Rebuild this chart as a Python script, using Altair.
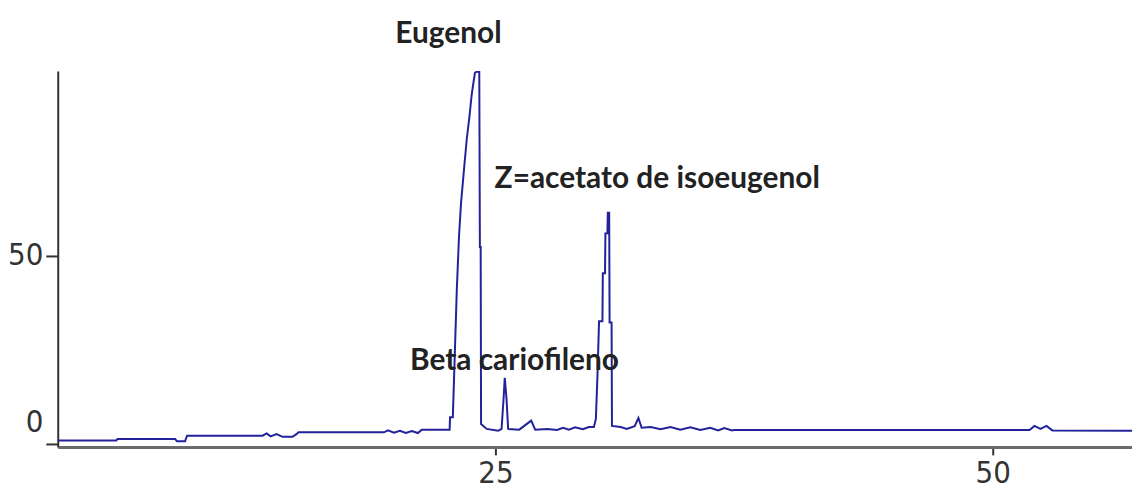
import altair as alt
import pandas as pd

# retention time (min) and relative abundance (%)
rt = [3.0, 5.95, 6.0, 8.9, 9.0, 9.4, 9.5, 13.3, 13.5, 13.7, 14.0, 14.3, 14.8, 15.0,
      15.1, 19.4, 19.6, 19.9, 20.2, 20.5, 20.8, 21.1, 21.3, 22.7, 22.72, 22.86,
      23.06, 23.17, 23.27, 23.44, 23.56, 23.69, 23.81, 23.97, 24.06, 24.19, 24.22,
      24.26, 24.28, 24.56, 25.14, 25.31, 25.42, 25.47, 25.56, 25.64, 26.2, 26.8,
      27.0, 27.6, 28.1, 28.4, 28.7, 29.0, 29.4, 29.7, 29.95, 30.05, 30.13, 30.21,
      30.38, 30.40, 30.51, 30.53, 30.63, 30.65, 30.72, 30.74, 30.84, 30.86, 31.3,
      31.6, 32.0, 32.19, 32.35, 32.8, 33.3, 33.8, 34.3, 34.8, 35.3, 35.8, 36.2,
      36.5, 36.9, 37.0, 51.85, 52.1, 52.4, 52.7, 53.0, 57.0]
abund = [0.9, 0.9, 1.3, 1.3, 0.7, 0.7, 2.2, 2.2, 2.8, 2.0, 2.6, 1.9, 1.9, 2.6,
         3.1, 3.1, 3.6, 3.0, 3.5, 2.9, 3.4, 2.9, 3.8, 3.8, 7.1, 7.1,
         41.0, 55.1, 63.9, 74.1, 81.1, 86.8, 93.0, 98.7, 99.0, 99.0, 52.4,
         52.4, 5.3, 4.0, 3.5, 4.0, 12.8, 17.6, 11.9, 4.0, 3.8, 6.2,
         3.8, 4.0, 3.7, 4.3, 3.8, 4.4, 3.9, 4.5, 4.5, 6.6, 18.1, 32.6,
         32.6, 45.4, 45.4, 56.0, 56.0, 61.5, 61.5, 32.3, 32.3, 4.8, 4.5,
         4.0, 4.7, 6.9, 4.3, 4.5, 3.9, 4.5, 3.8, 4.4, 3.7, 4.3, 3.6,
         4.2, 3.6, 3.7, 3.7, 4.8, 4.0, 4.8, 3.6, 3.5]

labels = ["Eugenol", "Z=acetato de isoeugenol", "Beta cariofileno"]
label_rt = [19.97, 24.96, 20.71]
label_ab = [106.6, 68.0, 19.6]

df = pd.DataFrame({"rt": rt, "ab": abund})
ldf = pd.DataFrame({"t": labels, "rt": label_rt, "ab": label_ab})

xs = alt.Scale(domain=[3, 57], nice=False, zero=False)
ys = alt.Scale(domain=[-0.8, 99.2], nice=False, zero=False)

axis_font = "DejaVu Sans Condensed, Liberation Sans, sans-serif"

line = alt.Chart(df).mark_line(color="#22229a", strokeWidth=2, clip=True).encode(
    x=alt.X("rt:Q", scale=xs, title=None,
            axis=alt.Axis(values=[25, 50], grid=False, domainColor="#6b6b6b",
                          domainWidth=3, tickColor="#333333", tickWidth=2,
                          tickSize=8, labelPadding=4, labelFont=axis_font,
                          labelFontSize=31, labelColor="#333333")),
    y=alt.Y("ab:Q", scale=ys, title=None,
            axis=alt.Axis(values=[0, 50], grid=False, domainColor="#333333",
                          domainWidth=2, tickColor="#333333", tickWidth=2,
                          tickSize=12, labelPadding=3, labelFont=axis_font,
                          labelFontSize=31, labelColor="#333333",
                          labelFlush=5, labelFlushOffset=-5)),
)

text = alt.Chart(ldf).mark_text(align="left", baseline="alphabetic", font="Lato",
                                fontWeight="bold", fontSize=30, color="#222222").encode(
    x=alt.X("rt:Q", scale=xs),
    y=alt.Y("ab:Q", scale=ys),
    text="t:N",
)

chart = (line + text).properties(
    width=1080, height=378,
    autosize=alt.AutoSizeParams(type="none"),
    padding={"left": 50, "top": 62, "right": 0, "bottom": 42},
).configure_view(strokeOpacity=0)

chart.save("out.html", embed_options={"renderer": "svg", "actions": False})
